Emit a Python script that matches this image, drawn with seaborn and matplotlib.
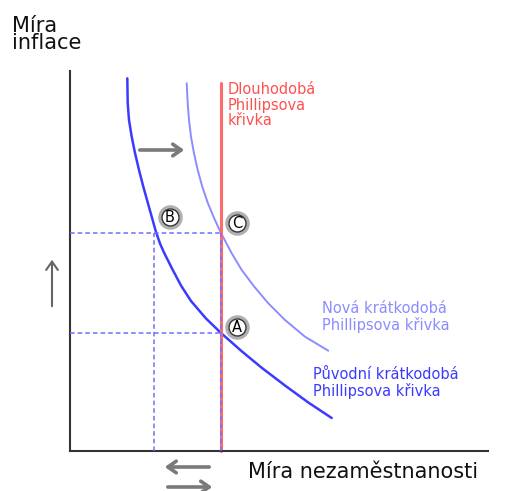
import matplotlib
matplotlib.use("Agg")
import matplotlib.pyplot as plt
import pandas as pd
import seaborn as sns

# values (arbitrary units, origin at the axes corner)
orig_u = [57.3, 57.7, 59, 61.7, 65, 69, 73.3, 77.3, 86, 90, 94, 102, 111, 121,
          136, 151, 172, 192, 215, 238.3, 261.7]
orig_pi = [372.7, 348, 331, 314.3, 298, 281, 264.3, 250, 219, 207.5, 198.5, 182.5,
           165.5, 150, 132.5, 118, 99.5, 83, 65.5, 48.5, 33]
new_u = [116.7, 117.7, 119, 121, 124, 127.7, 132.3, 138, 144.5, 151, 161.7, 171.7,
         184.3, 198.3, 215, 235, 258.3]
new_pi = [367.7, 347.7, 331, 314.3, 297.7, 281, 264.3, 247.5, 232, 218, 197.7, 181,
          164.3, 147.7, 131, 114.3, 100.3]
long_run_u = 151
long_run_top = 368
point_names = ['A', 'B', 'C']
point_u = [151, 84, 151]
point_pi = [118, 218, 218]
x_end, y_end = 418, 380

df = pd.concat([
    pd.DataFrame({'u': orig_u, 'pi': orig_pi, 'curve': 'orig'}),
    pd.DataFrame({'u': new_u, 'pi': new_pi, 'curve': 'new'}),
])

sns.set_theme(style="white")
plt.rcParams['font.family'] = ['DejaVu Sans']

fig = plt.figure(figsize=(5.1, 4.91), dpi=100)
ax = fig.add_axes([0, 0, 1, 1])

pal = {'orig': '#3b3bff', 'new': '#8c8cff'}
sns.lineplot(data=df[df.curve == 'orig'], x='u', y='pi', color=pal['orig'], lw=1.8, ax=ax, sort=False)
sns.lineplot(data=df[df.curve == 'new'], x='u', y='pi', color=pal['new'], lw=1.4, ax=ax, sort=False)

# long run curve
ax.plot([long_run_u, long_run_u], [0, long_run_top], color='#ff6b6b', lw=2.2, zorder=2)

# dashed guides
dash = dict(color='#6f6fff', lw=1.1, ls=(0, (3, 2)), zorder=3)
ax.plot([0, point_u[0]], [point_pi[0], point_pi[0]], **dash)
ax.plot([0, point_u[2]], [point_pi[2], point_pi[2]], **dash)
ax.plot([point_u[1], point_u[1]], [0, point_pi[1]], **dash)
ax.plot([point_u[0], point_u[0]], [0, point_pi[2]], **dash)

# point labels in circles
offs = {'A': (16, 6), 'B': (16, 16), 'C': (16, 10)}
for n, u, p in zip(point_names, point_u, point_pi):
    dx, dy = offs[n]
    ax.scatter([u + dx], [p + dy], s=230, facecolor='white', edgecolor='#b0b0b0', lw=2.5, zorder=5)
    ax.scatter([u + dx], [p + dy], s=150, facecolor='white', edgecolor='#333333', lw=1.0, zorder=6)
    ax.text(u + dx, p + dy, n, ha='center', va='center', fontsize=10.5, color='black', zorder=7)

# axes
for s in ['top', 'right']:
    ax.spines[s].set_visible(False)
ax.spines['left'].set_position(('data', 0))
ax.spines['bottom'].set_position(('data', 0))
ax.spines['left'].set_bounds(0, y_end)
ax.spines['bottom'].set_bounds(0, x_end)
for s in ['left', 'bottom']:
    ax.spines[s].set_color('#333333')
    ax.spines[s].set_linewidth(1.5)
ax.set_xticks([])
ax.set_yticks([])
ax.set_xlabel('')
ax.set_ylabel('')
ax.set_xlim(-70, 440)
ax.set_ylim(-40, 451)

# shift arrows
arr = dict(arrowstyle='->,head_length=0.5,head_width=0.35', color='#7a7a7a', lw=2.6)
ax.annotate('', xy=(117, 301), xytext=(67, 301), arrowprops=arr)
ax.annotate('', xy=(-18, 194), xytext=(-18, 142),
            arrowprops=dict(arrowstyle='->,head_length=0.5,head_width=0.35', color='#666666', lw=1.5))
ax.annotate('', xy=(92, -16), xytext=(142, -16), arrowprops=arr)
ax.annotate('', xy=(145, -36), xytext=(95, -36), arrowprops=arr)

# text
ax.text(-58, 435, 'Míra\ninflace', fontsize=15, va='top', ha='left', linespacing=0.82, color='#111111')
ax.text(178, -11, 'Míra nezaměstnanosti', fontsize=15, va='top', ha='left', color='#111111')
ax.text(158, 369, 'Dlouhodobá\nPhillipsova\nkřivka', fontsize=10.5, va='top', ha='left',
        color='#ff5050', linespacing=1.05)
ax.text(252, 150, 'Nová krátkodobá\nPhillipsova křivka', fontsize=10.5, va='top', ha='left',
        color='#8c8cff', linespacing=1.05)
ax.text(243, 84, 'Původní krátkodobá\nPhillipsova křivka', fontsize=10.5, va='top', ha='left',
        color='#3b3bff', linespacing=1.05)

fig.savefig('out.png', dpi=100)
